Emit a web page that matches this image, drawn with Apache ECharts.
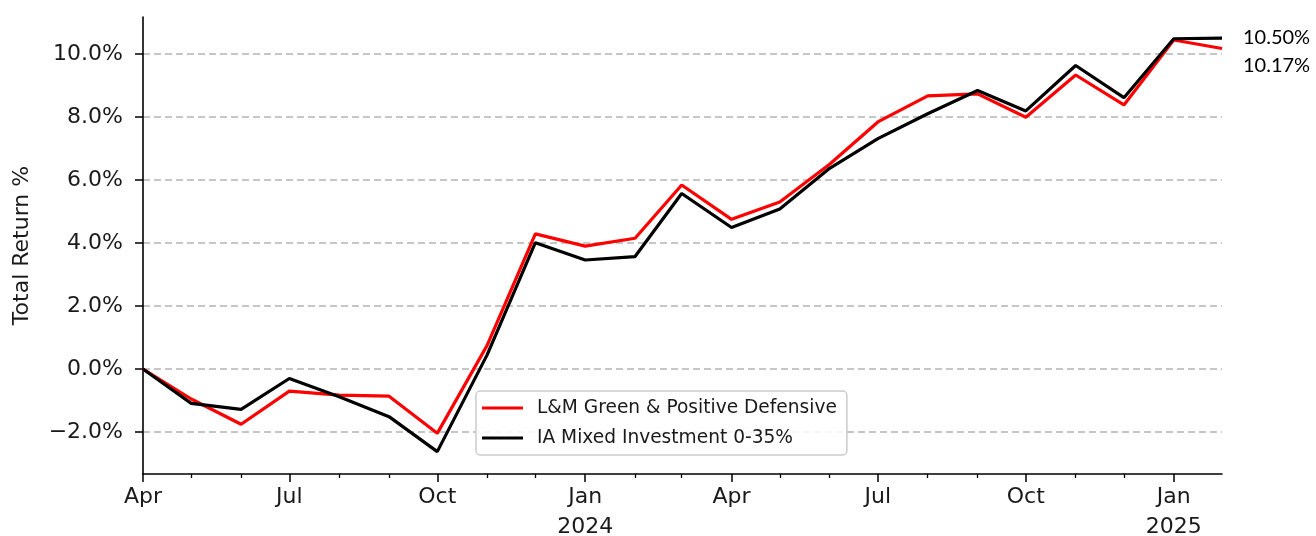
<!DOCTYPE html>
<html style="height: 100%">
<head>
<meta charset="utf-8">
<title>Total Return</title>
<script src="https://cdn.jsdelivr.net/npm/echarts@6/dist/echarts.min.js"></script>
</head>
<body style="height: 100%; margin: 0; background: #fff">
<div id="container" style="width: 1316px; height: 536px"></div>
<script type="text/javascript">
// monthly points, Apr 2023 .. end Jan 2025
var dates = ['2023-04-01', '2023-05-01', '2023-06-01', '2023-07-01', '2023-08-01', '2023-09-01',
  '2023-10-01', '2023-11-01', '2023-12-01', '2024-01-01', '2024-02-01', '2024-03-01',
  '2024-04-01', '2024-05-01', '2024-06-01', '2024-07-01', '2024-08-01', '2024-09-01',
  '2024-10-01', '2024-11-01', '2024-12-01', '2025-01-01', '2025-01-31'];
var fundName = 'L&M Green & Positive Defensive';
var fundValues = [0, -0.95, -1.75, -0.70, -0.83, -0.86, -2.04, 0.75, 4.29, 3.90, 4.15, 5.84,
  4.75, 5.30, 6.50, 7.84, 8.67, 8.73, 7.99, 9.33, 8.38, 10.44, 10.17];
var sectorName = 'IA Mixed Investment 0-35%';
var sectorValues = [0, -1.09, -1.28, -0.30, -0.88, -1.51, -2.62, 0.45, 4.01, 3.46, 3.57, 5.57,
  4.49, 5.08, 6.37, 7.31, 8.10, 8.84, 8.19, 9.63, 8.61, 10.48, 10.50];
var yTicks = [-2, 0, 2, 4, 6, 8, 10];
var majorTicks = ['2023-04-01', '2023-07-01', '2023-10-01', '2024-01-01', '2024-04-01',
  '2024-07-01', '2024-10-01', '2025-01-01'];
var minorTicks = ['2023-05-01', '2023-06-01', '2023-08-01', '2023-09-01', '2023-11-01',
  '2023-12-01', '2024-02-01', '2024-03-01', '2024-05-01', '2024-06-01', '2024-08-01',
  '2024-09-01', '2024-11-01', '2024-12-01'];
var monthNames = ['Jan', 'Feb', 'Mar', 'Apr', 'May', 'Jun', 'Jul', 'Aug', 'Sep', 'Oct', 'Nov', 'Dec'];

// dates become plain numbers (days since epoch) on a value axis
function toDay(s) {
  var p = s.split('-');
  return Date.UTC(+p[0], +p[1] - 1, +p[2]) / 86400000;
}
function pairs(vals) {
  return dates.map(function (d, i) { return [toDay(d), vals[i]]; });
}

var dom = document.getElementById('container');
var myChart = echarts.init(dom, null, { renderer: 'canvas' });
var font = 'DejaVu Sans';
var xMin = toDay(dates[0]);
var xMax = toDay(dates[dates.length - 1]);

var option = {
  animation: false,
  grid: { left: 143, right: 94, top: 17, bottom: 62, containLabel: false, outerBoundsMode: 'none' },
  legend: {
    left: 476,
    top: 391,
    orient: 'vertical',
    data: [fundName, sectorName],
    icon: 'rect',
    itemWidth: 41,
    itemHeight: 3,
    itemGap: 8,
    padding: [6, 10, 6, 6],
    backgroundColor: 'rgba(255,255,255,0.85)',
    borderColor: '#cccccc',
    borderWidth: 1.5,
    borderRadius: 4,
    textStyle: { fontFamily: font, fontSize: 18.6, color: '#1a1a1a', lineHeight: 22, padding: [0, 0, 0, 9] }
  },
  xAxis: [{
    type: 'value',
    min: xMin,
    max: xMax,
    axisLine: { onZero: false, lineStyle: { color: '#000', width: 1.6 } },
    axisTick: { length: 8, lineStyle: { color: '#000', width: 1.5 }, customValues: majorTicks.map(toDay) },
    splitLine: { show: false },
    axisLabel: {
      customValues: majorTicks.map(toDay),
      fontFamily: font, fontSize: 22, color: '#1a1a1a', margin: 8, lineHeight: 30,
      formatter: function (v) {
        var d = new Date(v * 86400000);
        var m = d.getUTCMonth();
        var s = monthNames[m];
        if (m === 0) s += '\n' + d.getUTCFullYear();
        return s;
      }
    }
  }, {
    type: 'value',
    min: xMin,
    max: xMax,
    position: 'bottom',
    axisLine: { show: false, onZero: false },
    axisTick: { length: 4, lineStyle: { color: '#000', width: 1.3 }, customValues: minorTicks.map(toDay) },
    axisLabel: { show: false, customValues: minorTicks.map(toDay) },
    splitLine: { show: false }
  }],
  yAxis: {
    type: 'value',
    min: -3.33,
    max: 11.17,
    name: 'Total Return %',
    nameLocation: 'middle',
    nameGap: 110,
    nameTextStyle: { fontFamily: font, fontSize: 22, color: '#1a1a1a' },
    axisLine: { show: true, onZero: false, lineStyle: { color: '#000', width: 1.6 } },
    axisTick: { show: true, length: 8, lineStyle: { color: '#000', width: 1.5 }, customValues: yTicks },
    axisLabel: {
      customValues: yTicks,
      fontFamily: font, fontSize: 22, color: '#1a1a1a', margin: 20,
      formatter: function (v) {
        return (v < 0 ? '\u2212' : '') + Math.abs(v).toFixed(1) + '%';
      }
    },
    splitLine: { show: true, lineStyle: { color: '#b4b4b4', width: 1.5, type: [7, 4] } }
  },
  series: [{
    name: fundName,
    type: 'line',
    data: pairs(fundValues),
    showSymbol: false,
    symbol: 'none',
    color: '#ff0000',
    lineStyle: { color: '#ff0000', width: 3.2 },
    z: 3,
    endLabel: {
      show: true,
      distance: 0,
      offset: [21, 17],
      fontFamily: 'Lato', fontSize: 20, color: '#000',
      formatter: function (p) { return p.value[1].toFixed(2) + '%'; }
    }
  }, {
    name: sectorName,
    type: 'line',
    data: pairs(sectorValues),
    showSymbol: false,
    symbol: 'none',
    color: '#000000',
    lineStyle: { color: '#000000', width: 3.2 },
    z: 4,
    endLabel: {
      show: true,
      distance: 0,
      offset: [21, -1],
      fontFamily: 'Lato', fontSize: 20, color: '#000',
      formatter: function (p) { return p.value[1].toFixed(2) + '%'; }
    }
  }]
};

if (option && typeof option === 'object') {
  myChart.setOption(option);
}
</script>
</body>
</html>
